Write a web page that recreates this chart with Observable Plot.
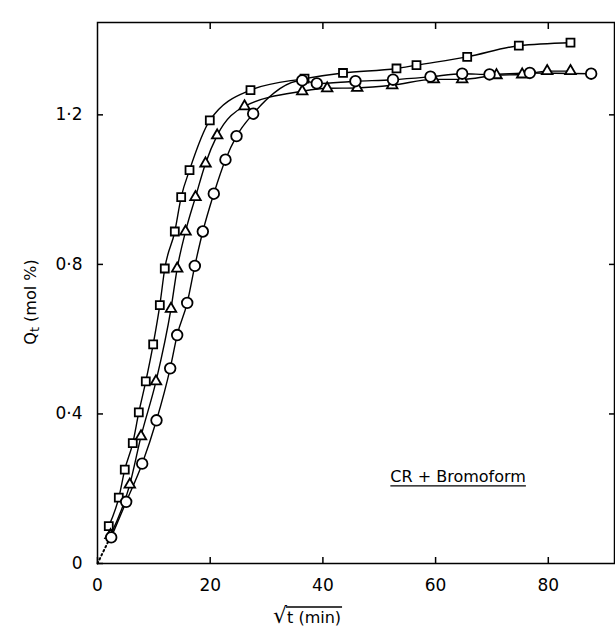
<!DOCTYPE html>
<html><head><meta charset="utf-8">
<script src="https://cdn.jsdelivr.net/npm/d3@7"></script>
<script src="https://cdn.jsdelivr.net/npm/@observablehq/plot@0.6"></script>
<style>body{margin:0;background:#fff} svg{display:block}</style>
</head><body><div id="chart"></div>
<script>
// Squares
const sqX = [2.0, 3.78, 4.84, 6.26, 7.33, 8.57, 9.88, 11.06, 11.94, 13.72, 14.85, 16.33, 19.93, 27.15, 36.74, 43.57, 53.06, 56.61, 65.61, 74.77, 83.94];
const sqY = [0.100, 0.176, 0.251, 0.322, 0.404, 0.487, 0.586, 0.691, 0.789, 0.888, 0.980, 1.052, 1.185, 1.266, 1.297, 1.312, 1.324, 1.333, 1.355, 1.385, 1.393];
// Triangles
const trX = [2.31, 5.73, 7.72, 10.38, 13.04, 14.14, 15.62, 17.39, 19.17, 21.24, 26.09, 36.33, 40.76, 46.09, 52.30, 59.68, 64.72, 70.81, 75.37, 79.80, 83.94];
const trY = [0.076, 0.211, 0.340, 0.487, 0.681, 0.789, 0.888, 0.980, 1.070, 1.145, 1.223, 1.263, 1.271, 1.272, 1.279, 1.295, 1.295, 1.306, 1.308, 1.317, 1.317];
// Circles
const ciX = [2.43, 5.09, 7.93, 10.47, 12.90, 14.14, 15.92, 17.27, 18.69, 20.64, 22.71, 24.67, 27.63, 36.33, 38.92, 45.78, 52.44, 59.09, 64.72, 69.57, 76.72, 87.61];
const ciY = [0.070, 0.165, 0.267, 0.383, 0.522, 0.611, 0.697, 0.796, 0.888, 0.989, 1.080, 1.143, 1.203, 1.292, 1.284, 1.290, 1.294, 1.302, 1.310, 1.308, 1.312, 1.310];
// Dotted start segment from origin
const dotX = [0, 2.2];
const dotY = [0, 0.068];

const xTicks = [0, 20, 40, 60, 80];
const yTicks = [0, 0.4, 0.8, 1.2];
const yTickLabels = ["0", "0·4", "0·8", "1·2"];
const annotation = [{x: 64.0, y: 0.232, label: "CR + Bromoform"}];

const rows = (xs, ys) => xs.map((x, i) => ({x, y: ys[i]}));
const sq = rows(sqX, sqY), tr = rows(trX, trY), ci = rows(ciX, ciY), dt = rows(dotX, dotY);

const FONT = "DejaVu Sans, Liberation Sans, sans-serif";
const FS = 17;
const chart = Plot.plot({
  width: 615, height: 629,
  marginLeft: 97, marginRight: 1, marginTop: 22, marginBottom: 66,
  style: {fontFamily: FONT, fontSize: "17px", color: "black", background: "white"},
  x: {domain: [0, 91.75]},
  y: {domain: [0, 1.447]},
  marks: [
    Plot.frame({stroke: "black", strokeWidth: 1.5}),
    Plot.axisX({anchor: "bottom", ticks: xTicks, tickSize: -6, tickPadding: 21, label: null, tickFormat: d => String(d), strokeWidth: 1.5, fontSize: FS}),
    Plot.axisX({anchor: "top", ticks: xTicks.slice(1), tickSize: -6, label: null, tickFormat: () => "", strokeWidth: 1.5}),
    Plot.axisY({anchor: "left", ticks: yTicks, tickSize: -6, tickPadding: 21, label: null, tickFormat: d => yTickLabels[yTicks.indexOf(d)], strokeWidth: 1.5, fontSize: FS}),
    Plot.axisY({anchor: "right", ticks: yTicks.slice(1), tickSize: -6, label: null, tickFormat: () => "", strokeWidth: 1.5}),
    Plot.line(dt, {x: "x", y: "y", stroke: "black", strokeWidth: 2, strokeDasharray: "1.5,3"}),
    Plot.line(sq, {x: "x", y: "y", curve: "monotone-x", stroke: "black", strokeWidth: 1.4}),
    Plot.line(tr, {x: "x", y: "y", curve: "monotone-x", stroke: "black", strokeWidth: 1.4}),
    Plot.line(ci, {x: "x", y: "y", curve: "monotone-x", stroke: "black", strokeWidth: 1.4}),
    Plot.dot(sq, {x: "x", y: "y", symbol: "square", r: 4.5, stroke: "black", strokeWidth: 1.8, fill: "white"}),
    Plot.dot(tr, {x: "x", y: "y", symbol: "triangle", r: 3.9, stroke: "black", strokeWidth: 1.8, fill: "white"}),
    Plot.dot(ci, {x: "x", y: "y", symbol: "circle", r: 5.3, stroke: "black", strokeWidth: 1.8, fill: "white"}),
    Plot.text(annotation, {x: "x", y: "y", text: "label", fontSize: 16, fill: "black"})
  ]
});
document.getElementById("chart").appendChild(chart);

const svg = d3.select(chart);
const svgRect = chart.getBoundingClientRect();
// y-axis label
const yl = svg.append("text")
  .attr("transform", "translate(30,302) rotate(-90)")
  .attr("text-anchor", "middle")
  .attr("dominant-baseline", "central")
  .attr("font-family", FONT)
  .attr("font-size", 16)
  .attr("fill", "black");
yl.append("tspan").text("Q");
yl.append("tspan").attr("dy", 4).attr("font-size", 13).text("t");
yl.append("tspan").attr("dy", -4).text(" (mol %)");

// x-axis label with radical
const xl = svg.append("text")
  .attr("x", 273).attr("y", 623)
  .attr("text-anchor", "start")
  .attr("font-family", FONT)
  .attr("font-size", 16)
  .attr("fill", "black");
xl.append("tspan").attr("font-size", 22).text("√");
const rad = xl.append("tspan").text("t (min)");
const rr = rad.node().getBoundingClientRect();
svg.append("line").attr("x1", rr.left - svgRect.left - 1).attr("x2", rr.right - svgRect.left + 1)
  .attr("y1", 607).attr("y2", 607)
  .attr("stroke", "black").attr("stroke-width", 1.4);

// underline annotation
const at = svg.selectAll("text").filter(function() { return this.textContent === "CR + Bromoform"; }).node();
if (at) {
  const b = at.getBoundingClientRect();
  const yU = b.bottom - svgRect.top;
  svg.append("line").attr("x1", b.left - svgRect.left).attr("x2", b.right - svgRect.left)
    .attr("y1", yU).attr("y2", yU)
    .attr("stroke", "black").attr("stroke-width", 1.4);
}
</script>
</body></html>
